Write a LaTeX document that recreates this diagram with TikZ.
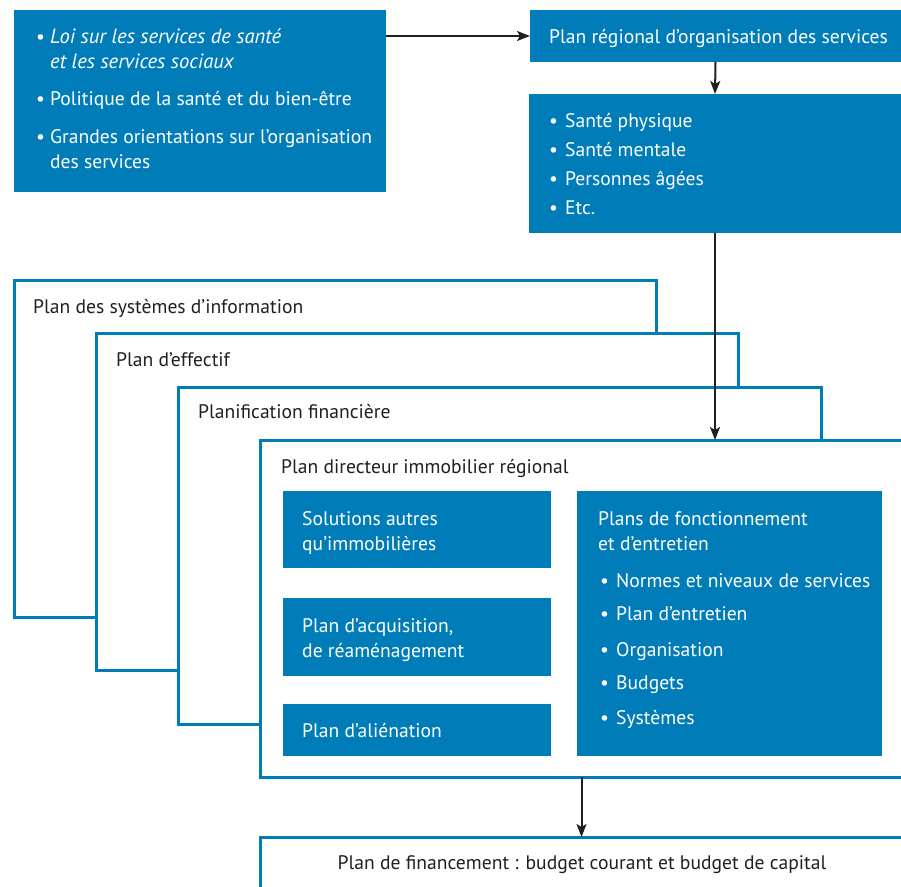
\documentclass[tikz,border=0pt]{standalone}
\usepackage{fontspec}
\setmainfont{PT Sans}
\usetikzlibrary{arrows.meta}
\definecolor{cblue}{RGB}{0,125,185}
\definecolor{ctext}{RGB}{35,31,32}
\newcommand{\bul}[1]{\makebox[#1][l]{•}}
\newcommand{\itbig}{\itshape\fontsize{20.6}{22}\selectfont}
\begin{document}
\begin{tikzpicture}[x=1pt,y=-1pt,
  bluebox/.style={fill=cblue, draw=none, anchor=north west, inner sep=0pt, outer sep=0pt},
  frame/.style={draw=cblue, line width=3pt, fill=white, anchor=north west, inner sep=0pt, outer sep=0pt},
  wt/.style={text=white, anchor=base west, inner sep=0pt, font=\fontsize{19.6}{22}\selectfont},
  dt/.style={text=ctext, anchor=base west, inner sep=0pt, font=\fontsize{19.6}{22}\selectfont},
  arr/.style={draw=ctext, line width=2pt, -{Stealth[length=13pt,width=10pt,inset=3pt]}}
]
\useasboundingbox (0,0) rectangle (901,886);

% top boxes
\node[bluebox, minimum width=372pt, minimum height=182pt] (tl) at (14,10) {};
\node[bluebox, minimum width=371pt, minimum height=52pt] (pr) at (530,10) {};
\node[bluebox, minimum width=372pt, minimum height=139pt] (sb) at (529,94) {};

\node[wt] (tl1) at (36,43) {\bul{14pt}\itbig Loi sur les services de santé};
\node[wt] (tl2) at (50,68) {\itbig et les services sociaux};
\node[wt] (tl3) at (36,105) {\bul{14pt}Politique de la santé et du bien-être};
\node[wt] (tl4) at (36,143) {\bul{14pt}Grandes orientations sur l’organisation};
\node[wt] (tl5) at (50,168) {des services};

\node[wt] (pr1) at (549,43) {Plan régional d’organisation des services};

\node[wt] (sb1) at (549,127) {\bul{16pt}Santé physique};
\node[wt] (sb2) at (549,156) {\bul{16pt}Santé mentale};
\node[wt] (sb3) at (549,185) {\bul{16pt}Personnes âgées};
\node[wt] (sb4) at (549,214) {\bul{16pt}Etc.};

% frames
\node[frame, minimum width=642pt, minimum height=337pt] (r1) at (14,280) {};
\node[dt] (r1t) at (33,313) {Plan des systèmes d’information};
\node[frame, minimum width=642pt, minimum height=337pt] (r2) at (96,333) {};
\node[dt] (r2t) at (116,366) {Plan d’effectif};
\node[frame, minimum width=643pt, minimum height=337pt] (r3) at (178,387) {};
\node[dt] (r3t) at (198,418) {Planification financière};
\node[frame, minimum width=648pt, minimum height=337pt] (r4) at (260,440) {};
\node[dt] (r4t) at (281,473) {Plan directeur immobilier régional};

% inner boxes
\node[bluebox, minimum width=268pt, minimum height=77pt] (b1) at (283,491) {};
\node[bluebox, minimum width=268pt, minimum height=78pt] (b2) at (283,598) {};
\node[bluebox, minimum width=268pt, minimum height=52pt] (b3) at (283,704) {};
\node[bluebox, minimum width=305pt, minimum height=265pt] (b4) at (577,491) {};

\node[wt] (b1a) at (302,525) {Solutions autres};
\node[wt] (b1b) at (302,550) {qu’immobilières};
\node[wt] (b2a) at (302,632) {Plan d’acquisition,};
\node[wt] (b2b) at (302,657) {de réaménagement};
\node[wt] (b3a) at (302,737) {Plan d’aliénation};

\node[wt] (b4a) at (598,525) {Plans de fonctionnement};
\node[wt] (b4b) at (598,550) {et d’entretien};
\node[wt] (b4c) at (600,587) {\bul{16pt}Normes et niveaux de services};
\node[wt] (b4d) at (600,620) {\bul{16pt}Plan d’entretien};
\node[wt] (b4e) at (600,656) {\bul{16pt}Organisation};
\node[wt] (b4f) at (600,689) {\bul{16pt}Budgets};
\node[wt] (b4g) at (600,724) {\bul{16pt}Systèmes};

% bottom box
\node[frame, minimum width=643pt, minimum height=70pt] (fin) at (260,837) {};
\node[dt, anchor=base] (fint) at (582,869) {Plan de financement : budget courant et budget de capital};

% arrows
\draw[arr] (pr.west -| tl.east) -- (pr.west);
\draw[arr] (pr.south) -- (sb.north);
\draw[arr] (sb.south) -- (sb.south |- r4.north);
\draw[arr] (fin.north |- r4.south) -- (fin.north);
\end{tikzpicture}
\end{document}
